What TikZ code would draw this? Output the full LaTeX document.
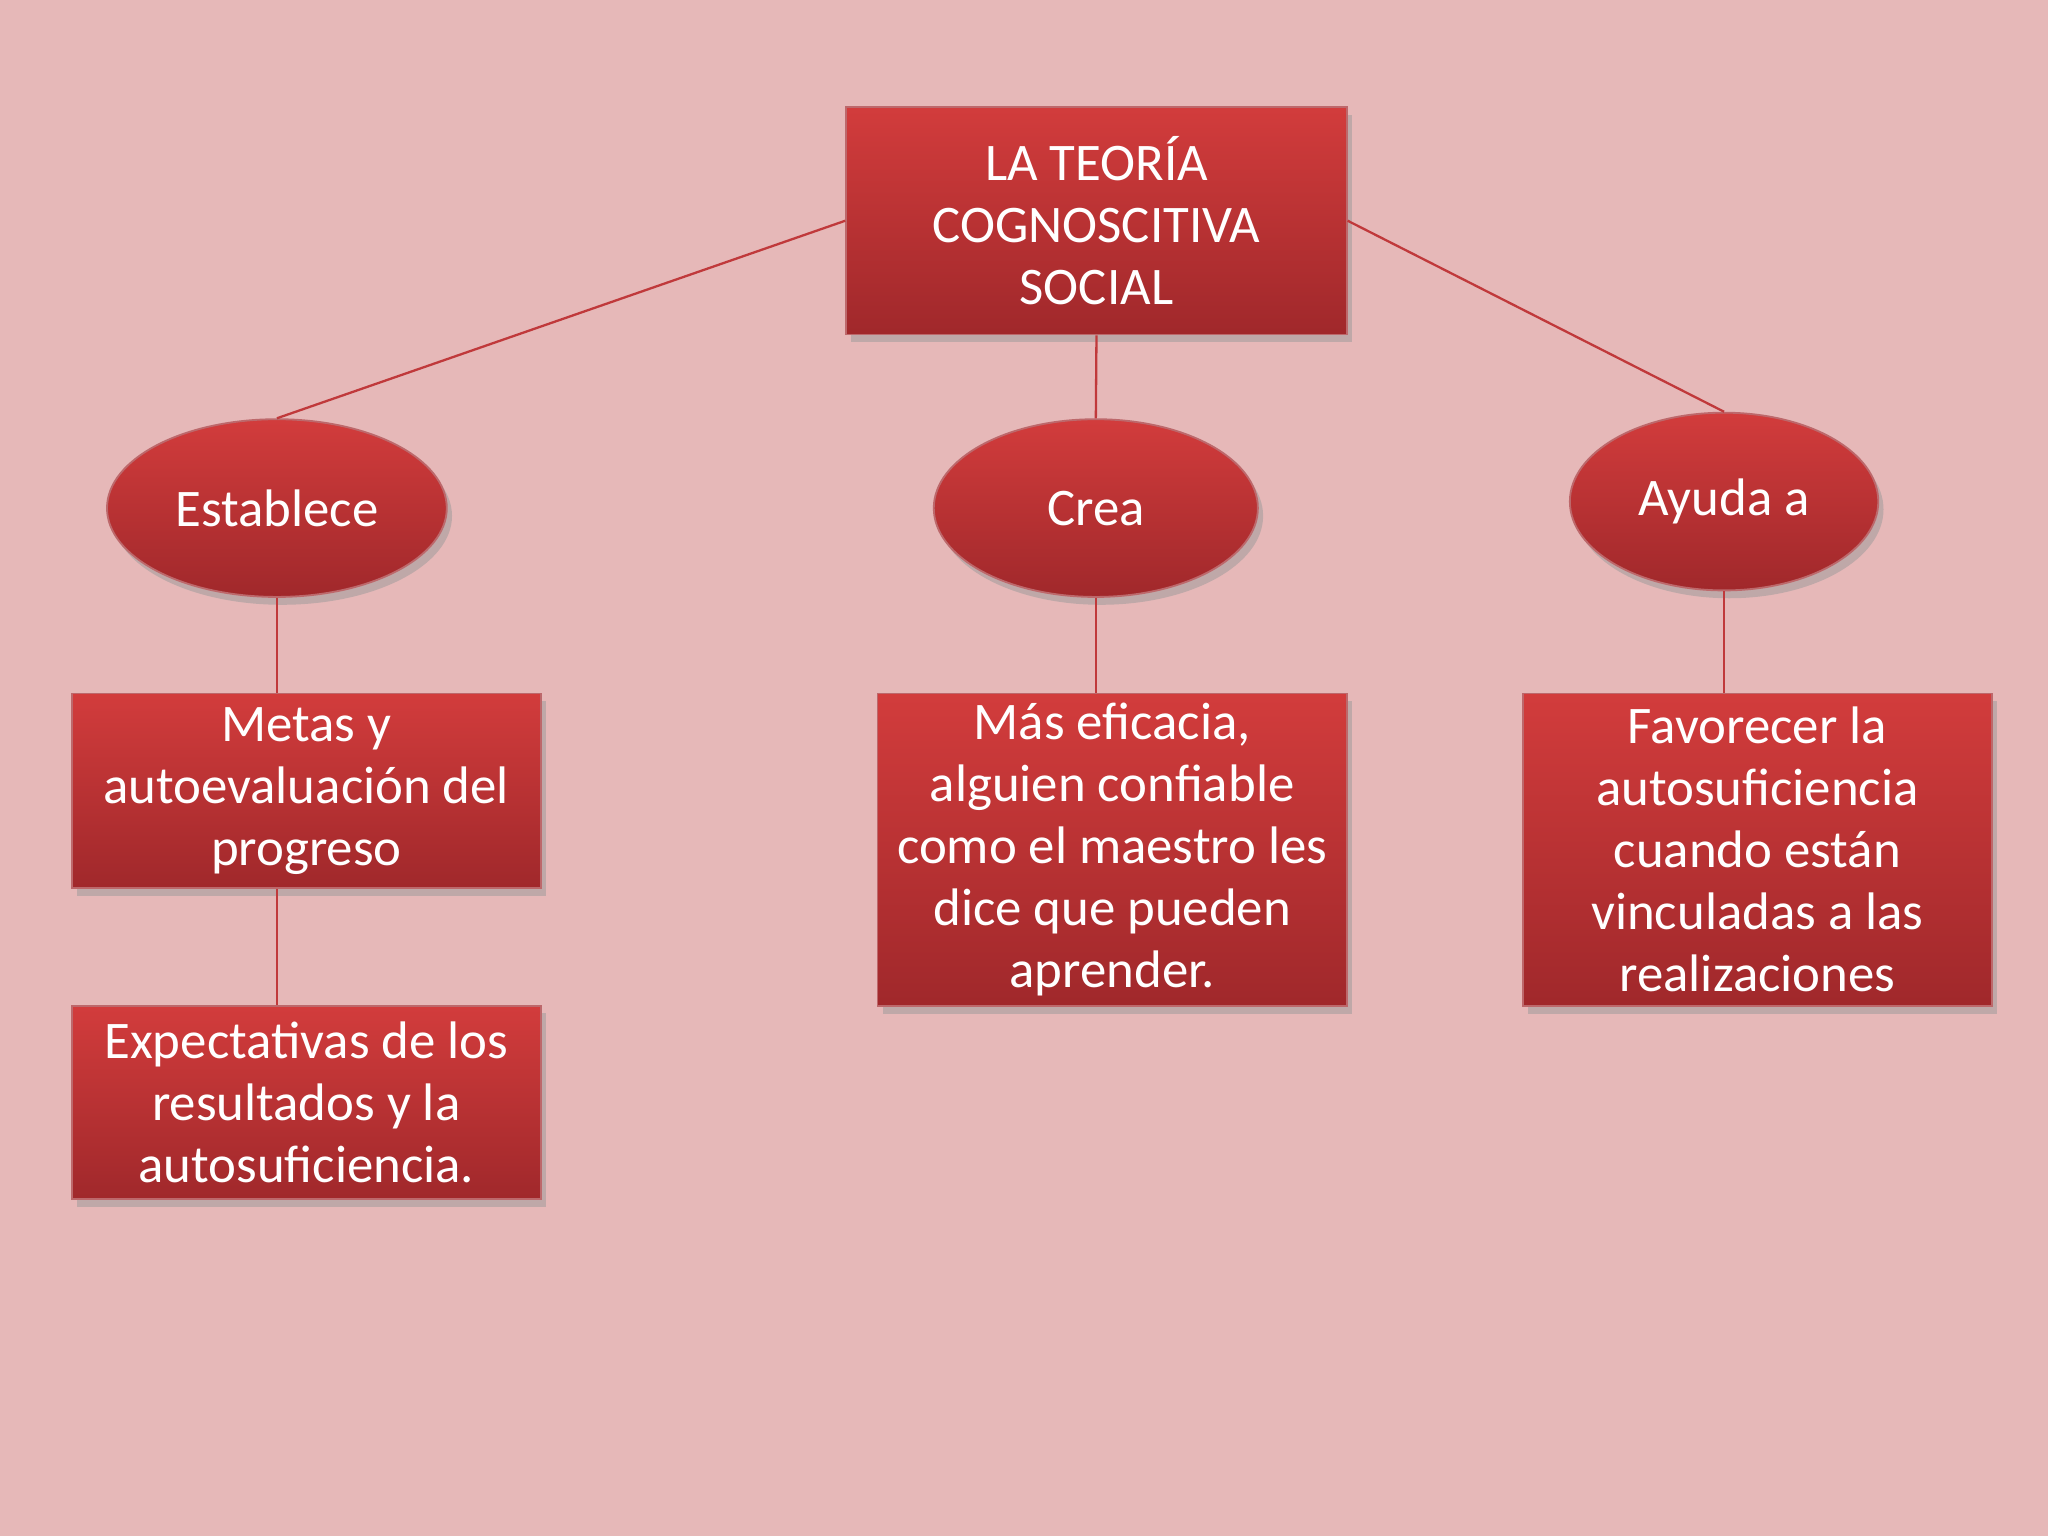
\documentclass[tikz,border=0pt]{standalone}
\usepackage{fontspec}
\setmainfont{Carlito}
\usetikzlibrary{shapes.geometric,shadows}
\definecolor{bg}{HTML}{E6B8B8}
\definecolor{rtop}{HTML}{D23C3C}
\definecolor{rbot}{HTML}{A0282B}
\definecolor{ln}{HTML}{C0393B}
\tikzset{
 redbox/.style={rectangle,draw=rbot!70,line width=0.4pt,top color=rtop,bottom color=rbot,text=white,font=\fontsize{11.5}{13.5}\selectfont,align=center,inner sep=0pt,drop shadow={shadow xshift=0.4mm,shadow yshift=-0.6mm,fill=black!40,opacity=0.5}},
 redell/.style={ellipse,draw=rbot!70,line width=0.4pt,top color=rtop,bottom color=rbot,text=white,font=\fontsize{11.5}{13.5}\selectfont,inner sep=0pt,drop shadow={shadow xshift=0.4mm,shadow yshift=-0.6mm,fill=black!40,opacity=0.5}},
 conn/.style={ln,line width=0.5pt}
}
\begin{document}
\begin{tikzpicture}[x=0.01cm,y=-0.01cm]
\fill[bg] (0,0) rectangle (1568,1176);
\node[redbox,minimum width=3.83cm,minimum height=1.74cm] (top) at (839.5,169) {LA TEORÍA\\COGNOSCITIVA\\SOCIAL};
\node[redell,minimum width=2.6cm,minimum height=1.36cm] (e1) at (212,389) {Establece};
\node[redell,minimum width=2.48cm,minimum height=1.36cm] (e2) at (839,389) {Crea};
\node[redell,minimum width=2.36cm,minimum height=1.36cm] (e3) at (1320,384) {Ayuda a};
\node[redbox,minimum width=3.59cm,minimum height=1.49cm] (m) at (234.5,605.5) {Metas y\\autoevaluación del\\progreso};
\node[redbox,minimum width=3.59cm,minimum height=1.48cm] (x) at (234.5,844) {Expectativas de los\\resultados y la\\autosuficiencia.};
\node[redbox,minimum width=3.59cm,minimum height=2.39cm] (c) at (851.5,650.5) {Más eficacia,\\alguien confiable\\como el maestro les\\dice que pueden\\aprender.};
\node[redbox,minimum width=3.59cm,minimum height=2.39cm] (f) at (1345.5,650.5) {Favorecer la\\autosuficiencia\\cuando están\\vinculadas a las\\realizaciones};
\draw[conn] (top.west) -- (e1.north);
\draw[conn] (top.east) -- (e3.north);
\draw[conn] (top.south) -- (e2.north);
\draw[conn] (e1.south) -- (e1.south |- m.north);
\draw[conn] (e2.south) -- (e2.south |- c.north);
\draw[conn] (e3.south) -- (e3.south |- f.north);
\draw[conn] (e1.south |- m.south) -- (e1.south |- x.north);
\end{tikzpicture}
\end{document}
